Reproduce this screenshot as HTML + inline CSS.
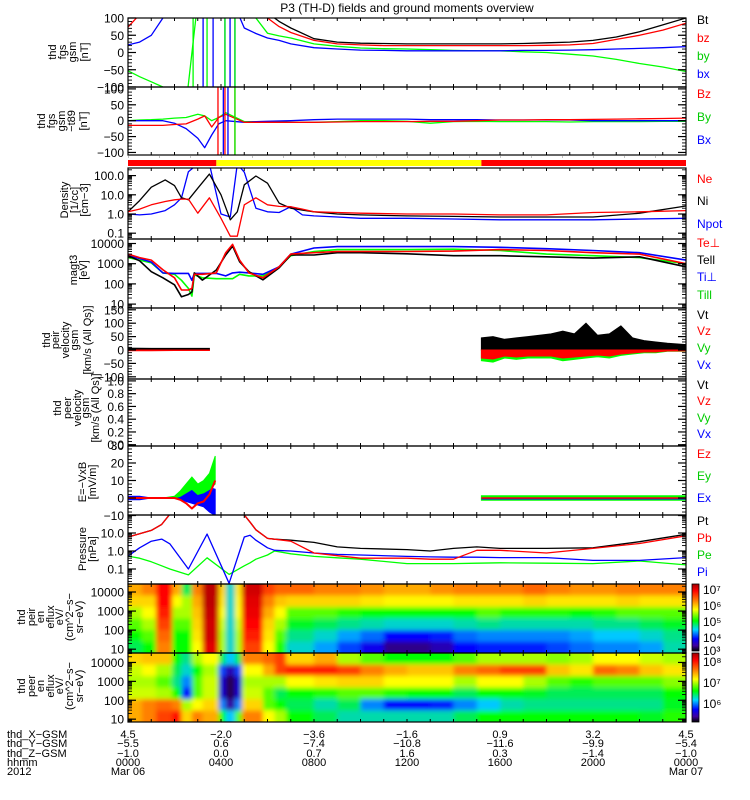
<!DOCTYPE html>
<html><head><meta charset="utf-8"><style>
html,body{margin:0;padding:0;background:#fff;}
svg{display:block;}
text{font-family:"Liberation Sans",sans-serif;}
</style></head><body>
<svg id="chart" width="750" height="800" viewBox="0 0 750 800" xmlns="http://www.w3.org/2000/svg">
<defs>
<filter id="blur" x="-5%" y="-5%" width="110%" height="110%"><feGaussianBlur stdDeviation="2.4"/></filter>
<linearGradient id="cbIon" x1="0" y1="0" x2="0" y2="1">
<stop offset="0" stop-color="#a00000"/><stop offset="0.1" stop-color="#ff0000"/><stop offset="0.25" stop-color="#ff8000"/><stop offset="0.38" stop-color="#ffff00"/><stop offset="0.55" stop-color="#00ff00"/><stop offset="0.68" stop-color="#00d8ff"/><stop offset="0.82" stop-color="#0000ff"/><stop offset="0.92" stop-color="#4000a0"/><stop offset="1" stop-color="#000000"/></linearGradient>
</defs>
<text x="407" y="12" text-anchor="middle" font-size="12">P3 (TH-D) fields and ground moments overview</text>
<g id="layer"></g>
</svg>
<script>
// ---------- DATA ----------
const hourTicks = [0,1,2,3,4,5,6,7,8,9,10,11,12,13,14,15,16,17,18,19,20,21,22,23,24];
// Panel 1: fgs gsm
const p1Time = [0,0.5,1,1.5,2,2.5,3,3.5,4,4.5,5,5.5,6,6.5,7,8,9,10,11,12,13,14,15,16,17,18,19,20,21,22,23,24];
const p1Bt = [130,150,150,150,150,150,150,150,150,150,150,150,115,90,71,40,30,27,26,25,25,25,25,25,26,28,30,35,45,60,80,100];
const p1Bz = [74,110,150,150,150,150,150,150,150,150,150,140,100,75,58,35,25,22,20,20,20,20,20,20,20,21,22,26,38,50,65,85];
const p1By = [-53,-70,-85,-100,-150,-150,150,150,150,150,150,100,56,48,42,25,18,13,11,10,8,6,5,5,2,0,-5,-10,-20,-32,-42,-55];
const p1Bx = [22,30,50,100,150,150,150,150,150,150,71,55,42,35,25,14,10,7,6,5,5,5,5,5,6,6,7,8,10,12,14,17];
const p1BlueSpikes = [3.23,3.66,4.17,4.39,4.6];
const p1GreenSpikes = [2.8,3.4,4.17,4.6];
// Panel 2: fgs gsm - t89
const p2Time = [0,0.5,1,1.5,2,2.5,3,3.3,3.6,3.9,4.2,5,5.5,6,7,8,9,10,11,12,13,14,15,16,17,18,19,20,21,22,23,24];
const p2Bx = [0,0,0,0,-8,-25,-55,-85,-45,-10,0,-5,-3,-2,0,3,5,5,5,5,3,3,3,2,2,2,2,0,0,0,0,0];
const p2Bz = [-15,-15,-15,-15,-12,-10,5,15,-20,10,20,-5,-5,-5,-5,-5,-4,-3,-3,-3,-2,-2,0,2,2,3,3,4,5,6,7,8];
const p2By = [0,2,3,5,8,10,20,15,0,10,25,-3,-3,-3,-5,-5,-3,0,0,-2,-8,-3,-2,-3,-3,-3,-4,-3,-3,-3,-2,-2];
const p2RedSpikes = [3.87,4.17,4.6];
const p2BlueSpikes = [4.1,4.3];
const p2GreenSpikes = [4.6];
// Mode bar
const modeStarts = [0,3.8,15.2];
const modeEnds = [3.8,15.2,24];
const modeColors = ["#ff0000","#ffff00","#ff0000"];
// Panel 3: density
const p3Time = [0,0.5,1,1.6,2,2.3,2.6,3,3.5,4,4.4,4.7,5,5.5,6,6.5,7,7.5,8,9,10,12,14,16,18,20,22,24];
const p3Ni = [1.3,5,25,60,30,7,5.5,22,120,10,0.5,1.3,33,95,40,3.7,2,1.6,1.3,1.0,0.9,0.8,0.75,0.7,0.7,0.7,1.1,2.6];
const p3Ne = [1.3,1.8,3,4.5,5.5,6,6,1.1,7,0.6,0.07,0.07,3,7,3,2.5,2.4,1.8,1.3,1.2,1.1,1.0,1.0,0.9,0.9,1.2,1.3,1.5];
const p3Npot = [1.0,0.9,1.0,1.5,3,7,160,400,400,1.0,0.7,400,150,2,1.3,1.2,2.4,0.9,0.8,0.7,0.6,0.6,0.55,0.5,0.5,0.5,0.55,0.6];
// Panel 4: temperatures
const p4Time = [0,0.5,1,1.5,2,2.3,2.6,2.75,2.85,3.2,3.8,4.2,4.5,4.8,5.2,5.8,6.5,7,8,9,10,12,14,16,18,20,22,24];
const p4TePerp = [3000,2000,1500,500,200,50,50,60,300,300,350,3500,9000,1500,350,200,700,3000,3500,4000,4000,4000,4200,5000,4500,3500,3000,1000];
const p4TePar = [2500,1400,400,200,90,23,30,40,350,155,490,2700,7400,1260,400,160,620,2700,2700,3500,3500,3100,2500,2500,2200,1900,2200,700];
const p4TiPerp = [2500,1800,1200,350,330,330,330,150,330,330,330,250,350,380,350,300,700,3000,6000,7000,7000,7000,7000,6500,5500,4500,3500,1500];
const p4TiPar = [2000,1500,1100,350,300,150,60,25,280,200,180,180,180,300,250,250,700,2500,4000,5000,5000,5000,5200,4500,3000,2500,2000,1000];
// Panel 5: ion velocity
const p5EarlyTime = [0,1,2,3,3.5];
const p5EarlyVt = [7,6,6,6,6];
const p5EarlyMin = [-3,-3,-2,-2,-2];
const p5LateTime = [15.2,15.7,16.2,16.7,17.2,17.7,18.2,18.7,19.2,19.7,20.2,20.7,21.2,21.7,22.2,22.7,23.2,24];
const p5LateVt = [45,50,40,45,50,55,60,70,60,100,55,60,90,45,35,30,25,20];
const p5LateMin = [-40,-45,-30,-35,-30,-30,-30,-40,-35,-30,-25,-30,-20,-15,-10,-10,-5,-5];
// Panel 7: E field
const p7Time = [0,0.5,1,1.5,2,2.25,2.5,2.75,3,3.25,3.5,3.75];
const p7EyMax = [0,0,0,0,1,4,8,12,8,10,14,24];
const p7EyMin = [0,0,0,0,0,1,3,5,2,3,5,8];
const p7Ez = [0,0,0,0,0,-1,-3,-6,-3,-2,2,10];
const p7ExMax = [1,1,0,0,0,2,3,5,6,8,6,5];
const p7ExMin = [-1,-1,0,0,0,-1,-2,-3,-4,-5,-8,-10];
const p7LateTime = [15.2,24];
const p7LateEyMax = [1.3,1.3];
// Panel 8: pressure
const p8Time = [0,0.5,1,1.45,1.8,2.6,3.4,4.35,5,5.25,5.5,6,6.3,7,8,9,10,12,13,14,15,16,18,20,22,24];
const p8Pt = [6,9,14,30,110,200,200,200,100,40,15,5,4.5,4,3,1.7,1.4,1.2,1.0,1.4,1.7,1.4,1.4,1.5,3.3,8.5];
const p8Pb = [6,9,14,30,110,200,200,200,100,40,15,5,4.5,3.5,0.77,0.55,0.4,0.4,0.35,0.35,1.1,1.1,0.77,1.4,2.6,7];
const p8Pi = [0.52,1.5,3.5,4.6,2.5,0.1,8.7,0.016,6,7.5,4,1.5,1.1,1.0,0.77,0.65,0.6,0.5,0.47,0.45,0.45,0.43,0.43,0.3,0.3,0.43];
const p8Pe = [0.52,0.4,0.25,0.15,0.1,0.047,0.42,0.05,0.15,0.22,0.35,0.6,1.0,0.7,0.5,0.42,0.35,0.2,0.2,0.2,0.21,0.22,0.21,0.2,0.28,0.17];
// Spectrograms: time bin edges, each column lists levels top(high energy) -> bottom
const specEdges = [0,0.6,1.2,1.9,2.3,2.75,3.2,3.9,4.2,4.6,4.9,5.8,6.3,6.8,8,9,10,11,12,13,14,15,16,17,18,19,20,21,22,23,24];
const ionLevels = [
[0.75,0.7,0.6,0.55,0.5,0.45],[0.8,0.7,0.65,0.6,0.55,0.5],[0.9,0.9,0.88,0.85,0.82,0.8],[0.75,0.65,0.6,0.55,0.5,0.5],
[0.45,0.6,0.6,0.55,0.5,0.5],[0.8,0.75,0.72,0.7,0.68,0.65],[0.97,0.97,0.96,0.95,0.95,0.93],[0.7,0.68,0.65,0.62,0.6,0.6],
[0.38,0.38,0.38,0.38,0.38,0.38],[0.68,0.66,0.65,0.62,0.6,0.6],[0.95,0.93,0.92,0.9,0.88,0.85],[0.85,0.8,0.75,0.7,0.68,0.65],
[0.82,0.72,0.65,0.6,0.55,0.52],[0.82,0.7,0.55,0.48,0.42,0.38],
[0.8,0.7,0.55,0.45,0.38,0.32],[0.8,0.7,0.52,0.42,0.32,0.25],[0.78,0.68,0.5,0.4,0.28,0.18],[0.75,0.66,0.5,0.38,0.2,0.08],
[0.75,0.66,0.5,0.38,0.2,0.08],[0.78,0.66,0.5,0.38,0.22,0.12],[0.8,0.68,0.5,0.4,0.28,0.2],[0.8,0.68,0.55,0.42,0.3,0.22],
[0.8,0.68,0.52,0.4,0.3,0.22],[0.82,0.7,0.52,0.4,0.3,0.22],[0.8,0.68,0.52,0.4,0.3,0.25],[0.78,0.68,0.5,0.4,0.32,0.28],
[0.78,0.68,0.52,0.42,0.35,0.3],[0.8,0.7,0.55,0.42,0.35,0.3],[0.8,0.68,0.55,0.45,0.38,0.32],[0.8,0.68,0.55,0.48,0.42,0.4]];
const elecLevels = [
[0.7,0.62,0.6,0.62,0.75,0.75],[0.72,0.65,0.6,0.62,0.8,0.8],[0.72,0.6,0.55,0.6,0.82,0.85],[0.5,0.45,0.42,0.5,0.8,0.9],
[0.42,0.38,0.3,0.2,0.6,0.7],[0.6,0.5,0.55,0.55,0.65,0.8],[0.65,0.6,0.62,0.62,0.7,0.75],[0.45,0.25,0.15,0.15,0.3,0.5],
[0.35,0.12,0.03,0.03,0.1,0.35],[0.45,0.25,0.15,0.15,0.3,0.55],[0.8,0.65,0.6,0.62,0.7,0.8],[0.82,0.75,0.6,0.55,0.55,0.65],
[0.85,0.85,0.6,0.45,0.5,0.6],[0.7,0.88,0.65,0.5,0.45,0.5],
[0.75,0.88,0.68,0.52,0.4,0.45],[0.6,0.85,0.7,0.55,0.45,0.4],[0.55,0.8,0.7,0.55,0.3,0.4],[0.5,0.75,0.65,0.52,0.2,0.4],
[0.5,0.72,0.65,0.5,0.2,0.4],[0.5,0.72,0.65,0.5,0.22,0.4],[0.55,0.8,0.6,0.45,0.3,0.45],[0.6,0.82,0.65,0.5,0.35,0.5],
[0.6,0.85,0.65,0.5,0.4,0.5],[0.6,0.85,0.6,0.48,0.42,0.5],[0.58,0.72,0.55,0.45,0.42,0.5],[0.6,0.68,0.52,0.45,0.42,0.5],
[0.65,0.82,0.55,0.45,0.42,0.5],[0.65,0.8,0.55,0.45,0.42,0.5],[0.62,0.72,0.55,0.45,0.42,0.48],[0.6,0.68,0.58,0.5,0.48,0.52]];
// Ephemeris labels
const ephemHours = [0,4,8,12,16,20,24];
const ephemX = ["4.5","−2.0","−3.6","−1.6","0.9","3.2","4.5"];
const ephemY = ["−5.5","0.6","−7.4","−10.8","−11.6","−9.9","−5.4"];
const ephemZ = ["−1.0","0.0","0.7","1.6","0.3","−1.4","−1.0"];
const ephemHHMM = ["0000","0400","0800","1200","1600","2000","0000"];

// ---------- DRAWING ----------
const NS = "http://www.w3.org/2000/svg";
const layer = document.getElementById('layer');
const X0 = 128, X1 = 686;
function xOf(t){ return X0 + (t/24)*(X1-X0); }
function mk(tag, attrs, parent){
  const el = document.createElementNS(NS, tag);
  for (const k in attrs) el.setAttribute(k, attrs[k]);
  (parent||layer).appendChild(el);
  return el;
}
function linAxis(top,bot,vmax,vmin){ return v => top + (vmax - v)/(vmax - vmin)*(bot-top); }
function logAxis(top,bot,lmax,lmin){ return v => top + (lmax - Math.log10(Math.max(v,1e-6)))/(lmax-lmin)*(bot-top); }

const panels = [
 {id:'fgs-gsm', top:18, bot:87, y: linAxis(18,87,100,-100)},
 {id:'fgs-gsm-t89', top:87, bot:155, y: linAxis(87,155,106,-108)},
 {id:'density', top:168, bot:239, y: logAxis(168,239,2.396,-1.302)},
 {id:'temperature', top:239, bot:308, y: logAxis(239,308,4.223,0.807)},
 {id:'peir-velocity', top:308, bot:379, y: linAxis(308,379,156.7,-108.2)},
 {id:'peer-velocity', top:379, bot:446, y: linAxis(379,446,1.03,-0.02)},
 {id:'e-field', top:446, bot:515, y: linAxis(446,515,29.7,-9.7)},
 {id:'pressure', top:515, bot:584, y: logAxis(515,584,2.0,-1.833)},
 {id:'ion-spectrogram', top:584, bot:653, y: logAxis(584,653,4.42,0.8)},
 {id:'electron-spectrogram', top:653, bot:722, y: logAxis(653,722,4.5,0.85)}
];
panels.forEach((p,i)=>{
  const cp = mk('clipPath',{id:'clip'+i});
  mk('rect',{x:X0,y:p.top,width:X1-X0,height:p.bot-p.top},cp);
  p.g = mk('g',{'clip-path':'url(#clip'+i+')'});
  
  
});

function line(p, ts, vs, color, name, w){
  const pts = ts.map((t,i)=> xOf(t).toFixed(1)+','+p.y(vs[i]).toFixed(1)).join(' ');
  const el = mk('polyline',{points:pts, fill:'none', stroke:color, 'stroke-width':w||1.3, 'stroke-linejoin':'round'}, p.g);
  
  
}
function band(p, ts, hi, lo, color, name){
  const up = ts.map((t,i)=> xOf(t).toFixed(1)+','+p.y(hi[i]).toFixed(1));
  const dn = ts.map((t,i)=> xOf(t).toFixed(1)+','+p.y(lo[i]).toFixed(1)).reverse();
  const el = mk('polygon',{points:up.concat(dn).join(' '), fill:color, stroke:color, 'stroke-width':1}, p.g);
  
  
}
function spikes(p, ts, color, name){
  ts.forEach(t=>{
    const el = mk('line',{x1:xOf(t),x2:xOf(t),y1:p.top,y2:p.bot,stroke:color,'stroke-width':1.3}, p.g);
    
    
  });
}

// Panel 1
let P = panels[0];
line(P,p1Time,p1By,'#00ff00','line-by'); line(P,p1Time,p1Bx,'#0000ff','line-bx');
line(P,p1Time,p1Bz,'#ff0000','line-bz'); line(P,p1Time,p1Bt,'#000000','line-bt');
spikes(P,p1BlueSpikes,'#0000ff','spike-bx'); spikes(P,p1GreenSpikes,'#00ff00','spike-by');
// Panel 2
P = panels[1];
line(P,p2Time,p2By,'#00ff00','line-by-t89'); line(P,p2Time,p2Bx,'#0000ff','line-bx-t89'); line(P,p2Time,p2Bz,'#ff0000','line-bz-t89');
spikes(P,p2RedSpikes,'#ff0000','spike-bz-t89'); spikes(P,p2BlueSpikes,'#0000ff','spike-bx-t89'); spikes(P,p2GreenSpikes,'#00ff00','spike-by-t89');
// Mode bar
modeStarts.forEach((s,i)=>{
  const el = mk('rect',{x:xOf(s),y:160,width:xOf(modeEnds[i])-xOf(s),height:6,fill:modeColors[i]});
  
  
});
mk('line',{x1:X0,x2:X1,y1:157,y2:157,stroke:'#000','stroke-width':0.6,'stroke-dasharray':'1 30'});
// Panel 3
P = panels[2];
line(P,p3Time,p3Npot,'#0000ff','line-npot'); line(P,p3Time,p3Ni,'#000000','line-ni'); line(P,p3Time,p3Ne,'#ff0000','line-ne');
// Panel 4
P = panels[3];
line(P,p4Time,p4TiPar,'#00ff00','line-ti-par',1.6); line(P,p4Time,p4TiPerp,'#0000ff','line-ti-perp',1.6);
line(P,p4Time,p4TePar,'#000000','line-te-par',1.6); line(P,p4Time,p4TePerp,'#ff0000','line-te-perp',1.6);
// Panel 5
P = panels[4];
band(P,p5EarlyTime,p5EarlyVt,p5EarlyTime.map(()=>0),'#000000','vt-early');
band(P,p5EarlyTime,p5EarlyTime.map(()=>0),p5EarlyMin,'#ff0000','vz-early');
band(P,p5LateTime,p5LateVt,p5LateTime.map(()=>0),'#000000','vt-late');
band(P,p5LateTime,p5LateTime.map(()=>0),p5LateMin,'#00ff00','vy-late');
band(P,p5LateTime,p5LateTime.map(()=>0),p5LateMin.map(v=>v*0.75),'#ff0000','vz-late');
// Panel 7
P = panels[6];
band(P,p7Time,p7ExMax,p7ExMin,'#0000ff','ex-band');
band(P,p7Time,p7EyMax,p7EyMin,'#00ff00','ey-band');
line(P,p7Time,p7Ez,'#ff0000','line-ez',2);
band(P,p7LateTime,p7LateEyMax,p7LateEyMax.map(v=>-v),'#00ff00','ey-late');
line(P,p7LateTime,[-0.5,-0.5],'#0000ff','line-ex-late',1.2);
line(P,p7LateTime,[0,0],'#ff0000','line-ez-late',1.5);
// Panel 8
P = panels[7];
line(P,p8Time,p8Pe,'#00ff00','line-pe'); line(P,p8Time,p8Pi,'#0000ff','line-pi');
line(P,p8Time,p8Pt,'#000000','line-pt'); line(P,p8Time,p8Pb,'#ff0000','line-pb');

// Spectrograms
const cstops = [[0,[32,0,48]],[0.1,[48,0,160]],[0.2,[0,0,255]],[0.35,[0,200,255]],[0.5,[0,255,0]],[0.65,[255,255,0]],[0.8,[255,128,0]],[0.9,[255,0,0]],[1,[160,0,0]]];
function cmap(v){
  for(let i=1;i<cstops.length;i++){
    if(v<=cstops[i][0]){
      const a=cstops[i-1], b=cstops[i], f=(v-a[0])/(b[0]-a[0]);
      const c=a[1].map((x,k)=>Math.round(x+(b[1][k]-x)*f));
      return 'rgb('+c.join(',')+')';
    }
  }
  return 'rgb(160,0,0)';
}
function spec(p, levels, name){
  const g = mk('g',{filter:'url(#blur)'}, p.g);
  const nRows = levels[0].length, h=(p.bot-p.top)/nRows;
  levels.forEach((col,i)=>{
    let xa = xOf(specEdges[i]), xb = xOf(specEdges[i+1]);
    if(i===0) xa -= 8; if(i===levels.length-1) xb += 8;
    col.forEach((v,j)=>{
      let ya = p.top + j*h, yb = ya + h;
      if(j===0) ya -= 8; if(j===nRows-1) yb += 8;
      const el = mk('rect',{x:xa.toFixed(1),y:ya.toFixed(1),width:(xb-xa+0.6).toFixed(1),height:(yb-ya+0.6).toFixed(1),fill:cmap(v)}, g);
      
      
    });
  });
}
spec(panels[8], ionLevels, 'ion-spectrogram');
spec(panels[9], elecLevels, 'electron-spectrogram');

// Axes frames and ticks
const axG = mk('g',{});


const yTicks = [
 {maj:[100,50,0,-50,-100], lab:['100','50','0','−50','−100'], minor:{lin:10,min:-100,max:100}},
 {maj:[100,50,0,-50,-100], lab:['100','50','0','−50','−100'], minor:{lin:10,min:-100,max:100}},
 {maj:[100,10,1,0.1], lab:['100.0','10.0','1.0','0.1'], minor:{log:true}},
 {maj:[10000,1000,100,10], lab:['10000','1000','100','10'], minor:{log:true}},
 {maj:[150,100,50,0,-50,-100], lab:['150','100','50','0','−50','−100'], minor:{lin:10,min:-100,max:150}},
 {maj:[1,0.8,0.6,0.4,0.2,0], lab:['1.0','0.8','0.6','0.4','0.2','0.0'], minor:{lin:0.05,min:0,max:1}},
 {maj:[30,20,10,0,-10], lab:['30','20','10','0','−10'], minor:{lin:2,min:-8,max:30}},
 {maj:[10,1,0.1], lab:['10.0','1.0','0.1'], minor:{log:true}},
 {maj:[10000,1000,100,10], lab:['10000','1000','100','10'], minor:{log:true}},
 {maj:[10000,1000,100,10], lab:['10000','1000','100','10'], minor:{log:true}}
];
panels.forEach((p,i)=>{
  mk('rect',{x:X0,y:p.top,width:X1-X0,height:p.bot-p.top,fill:'none',stroke:'#000','stroke-width':1.2},axG);
  hourTicks.forEach(t=>{
    mk('line',{x1:xOf(t),x2:xOf(t),y1:p.top,y2:p.top+3,stroke:'#000','stroke-width':1},axG);
    mk('line',{x1:xOf(t),x2:xOf(t),y1:p.bot,y2:p.bot-3,stroke:'#000','stroke-width':1},axG);
  });
  const yt = yTicks[i];
  const minors = [];
  if(yt.minor.log){
    for(let d=-2; d<=5; d++) for(let m=1;m<10;m++) minors.push(m*Math.pow(10,d));
  } else {
    for(let v=yt.minor.min; v<=yt.minor.max+1e-9; v+=yt.minor.lin) minors.push(v);
  }
  minors.forEach(v=>{
    const y=p.y(v); if(y<p.top-0.5||y>p.bot+0.5) return;
    mk('line',{x1:X0,x2:X0+4,y1:y,y2:y,stroke:'#000','stroke-width':0.9},axG);
    mk('line',{x1:X1,x2:X1-4,y1:y,y2:y,stroke:'#000','stroke-width':0.9},axG);
  });
  yt.maj.forEach((v,k)=>{
    const y=p.y(v);
    mk('line',{x1:X0,x2:X0+8,y1:y,y2:y,stroke:'#000','stroke-width':1.2},axG);
    mk('line',{x1:X1,x2:X1-8,y1:y,y2:y,stroke:'#000','stroke-width':1.2},axG);
    const tx = mk('text',{x:124,y:y+4.5,'text-anchor':'end','font-size':12},axG);
    tx.textContent = yt.lab[k];
    
    
  });
});

// Left y-axis titles (rotated)
const yTitles = [
 {cy:52, lines:[['thd',56],['fgs',66],['gsm',76],['[nT]',88]]},
 {cy:121, lines:[['thd',45],['fgs',55],['gsm',65],['−t89',75],['[nT]',87]]},
 {cy:200, lines:[['Density',68],['[1/cc]',78],['[cm−3]',88]]},
 {cy:270, lines:[['magt3',77],['[eV]',87]]},
 {cy:340, lines:[['thd',50],['peir',59],['velocity',69],['gsm',78],['[km/s (All Qs)]',91]]},
 {cy:408, lines:[['thd',61],['peer',71],['velocity',81],['gsm',89],['[km/s (All Qs)]',99]]},
 {cy:482, lines:[['E=−VxB',86],['[mV/m]',96]]},
 {cy:549, lines:[['Pressure',86],['[nPa]',96]]},
 {cy:617, lines:[['thd',25],['peir',35],['en',44],['eflux',54],['eV/',63],['(cm^2−s−',73],['sr−eV)',83]]},
 {cy:686, lines:[['thd',25],['peer',35],['en',44],['eflux',54],['eV/',63],['(cm^2−s−',73],['sr−eV)',83]]}
];
yTitles.forEach((yt,i)=>{
  yt.lines.forEach(l=>{
    const tx = mk('text',{x:l[1],y:yt.cy,'text-anchor':'middle','font-size':11,transform:'rotate(-90 '+l[1]+' '+yt.cy+')'});
    tx.textContent = l[0];
    
    
  });
});

// Right legends
const legends = [
 [['Bt','#000',24],['bz','#ff0000',42],['by','#00cc00',60],['bx','#0000ff',78]],
 [['Bz','#ff0000',98],['By','#00cc00',121],['Bx','#0000ff',144]],
 [['Ne','#ff0000',183],['Ni','#000',205],['Npot','#0000ff',228]],
 [['Te⊥','#ff0000',247],['Tell','#000',264],['Ti⊥','#0000ff',281],['Till','#00cc00',299]],
 [['Vt','#000',319],['Vz','#ff0000',335],['Vy','#00cc00',352],['Vx','#0000ff',369]],
 [['Vt','#000',389],['Vz','#ff0000',405],['Vy','#00cc00',422],['Vx','#0000ff',438]],
 [['Ez','#ff0000',458],['Ey','#00cc00',480],['Ex','#0000ff',502]],
 [['Pt','#000',525],['Pb','#ff0000',542],['Pe','#00cc00',559],['Pi','#0000ff',576]]
];
legends.forEach((lg,i)=>{
  lg.forEach(e=>{
    const tx = mk('text',{x:697,y:e[2],'font-size':12,fill:e[1]});
    tx.textContent = e[0];
    
    
  });
});

// Colorbars
[[584,651,['10⁷','10⁶','10⁵','10⁴','10³'],[590,606,622,638,651]],[653,722,['10⁸','10⁷','10⁶'],[662,683,704]]].forEach((cb,i)=>{
  const r = mk('rect',{x:692,y:cb[0],width:7,height:cb[1]-cb[0],fill:'url(#cbIon)',stroke:'#000','stroke-width':0.8});
  
  
  cb[2].forEach((lab,k)=>{
    const tx = mk('text',{x:703,y:cb[3][k]+4,'font-size':12});
    tx.textContent = lab;
    
    
  });
});

// Ephemeris rows
const rowY = [738,747,757,766,775];
const rowNames = ['thd_X−GSM','thd_Y−GSM','thd_Z−GSM','hhmm','2012'];
rowNames.forEach((n,k)=>{
  const tx = mk('text',{x:7,y:rowY[k],'font-size':11});
  tx.textContent = n;
  
  
});
[ephemX,ephemY,ephemZ,ephemHHMM].forEach((arr,k)=>{
  arr.forEach((v,j)=>{
    const tx = mk('text',{x:xOf(ephemHours[j]),y:rowY[k],'font-size':11,'text-anchor':'middle'});
    tx.textContent = v;
    
    
  });
});
[['Mar 06',0],['Mar 07',24]].forEach(d=>{
  const tx = mk('text',{x:xOf(d[1]),y:rowY[4],'font-size':11,'text-anchor':'middle'});
  tx.textContent = d[0];
  
  
});
</script>
</body></html>
